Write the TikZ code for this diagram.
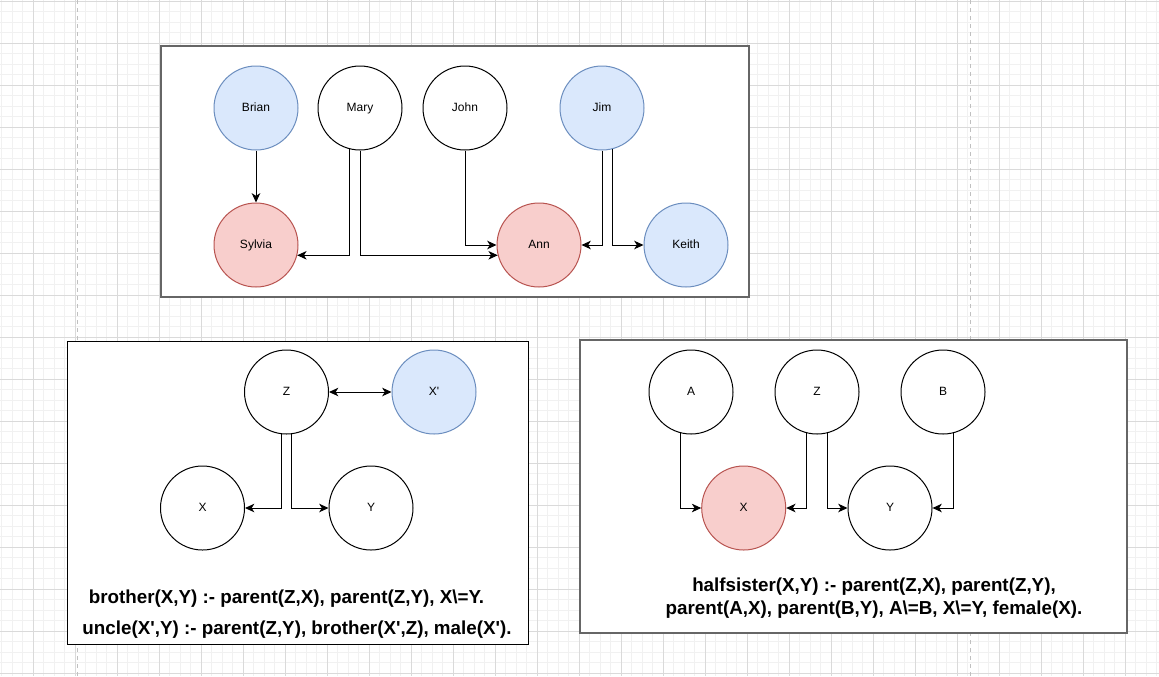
\documentclass[tikz,border=0pt]{standalone}
\usepackage{fontspec}
\setmainfont{Liberation Sans}
\usetikzlibrary{arrows.meta, positioning}
\definecolor{gridminor}{RGB}{241,241,241}
\definecolor{gridmajor}{RGB}{218,218,218}
\definecolor{pagedash}{RGB}{192,192,192}
\definecolor{malefill}{HTML}{DAE8FC}
\definecolor{maledraw}{HTML}{6C8EBF}
\definecolor{femalefill}{HTML}{F8CECC}
\definecolor{femaledraw}{HTML}{B85450}
\definecolor{framegray}{HTML}{666666}

\begin{document}
\begin{tikzpicture}[x=0.75pt, y=-0.75pt,
person/.style={
    circle,
    draw=black,
    fill=white,
    minimum size=63pt,
    inner sep=0pt,
    line width=0.75pt,
    text height=6.5pt,
    text depth=1.9pt,
    font=\fontsize{9}{11}\selectfont
},
male/.style={person, draw=maledraw, fill=malefill},
female/.style={person, draw=femaledraw, fill=femalefill},
link/.style={->, line width=0.75pt},
rule/.style={font=\fontsize{14.1}{17.25}\selectfont\bfseries, align=center, inner sep=0pt},
>={Stealth[length=7pt, width=6.4pt, inset=2pt]}]

  % canvas and grid
  \fill[white] (0,0) rectangle (1159,676);
  \useasboundingbox (0,0) rectangle (1159,676);
  \foreach \i in {0,...,110}
    \draw[gridminor, line width=0.75pt] ({1.8+10.5*\i},0) -- ({1.8+10.5*\i},676);
  \foreach \j in {0,...,64}
    \draw[gridminor, line width=0.75pt] (0,{1.3+10.5*\j}) -- (1159,{1.3+10.5*\j});
  \foreach \i in {0,...,26}
    \draw[gridmajor, line width=0.75pt] ({33.3+42*\i},0) -- ({33.3+42*\i},676);
  \foreach \j in {0,...,16}
    \draw[gridmajor, line width=0.75pt] (0,{1.3+42*\j}) -- (1159,{1.3+42*\j});
  \foreach \px in {77,970}
    \draw[pagedash, line width=0.75pt, dash pattern=on 3pt off 3pt] (\px,0) -- (\px,676);

  % frames
  \draw[framegray, line width=1.5pt, fill=white] (161,46) rectangle (749,297);
  \draw[black, line width=0.75pt, fill=white] (67,341) rectangle (528,644);
  \draw[framegray, line width=1.5pt, fill=white] (580,340) rectangle (1127,633);

  % family
  \node[male] (brian) at (256,108) {Brian};
  \node[person] (mary) at (360,108) {Mary};
  \node[person] (john) at (465,108) {John};
  \node[male] (jim) at (602,108) {Jim};
  \node[female] (sylvia) at (256,245) {Sylvia};
  \node[female] (ann) at (539,245) {Ann};
  \node[male] (keith) at (686,245) {Keith};

  \draw[link] (brian) -- (sylvia);
  \draw[link] (mary.256) |- (sylvia.-14);
  \draw[link] (mary.south) |- (ann.194);
  \draw[link] (john.south) |- (ann.west);
  \draw[link] (jim.south) |- (ann.east);
  \draw[link] (jim.284) |- (keith.west);

  % uncle rule
  \node[person] (zb) at (286.5,392) {Z};
  \node[male] (xpb) at (434,392) {X\textquotesingle};
  \node[person] (xb) at (202.5,508) {X};
  \node[person] (yb) at (371,508) {Y};

  \draw[<->, line width=0.75pt] (zb) -- (xpb);
  \draw[link] (zb.263) |- (xb.east);
  \draw[link] (zb.277) |- (yb.west);

  \node[rule] (brorule) at (286.5,599) {brother(X,Y) :- parent(Z,X), parent(Z,Y), X\textbackslash=Y.};
  \node[rule] (unclerule) at (297,630) {uncle(X\textquotesingle,Y) :- parent(Z,Y), brother(X\textquotesingle,Z), male(X\textquotesingle).};

  % halfsister rule
  \node[person] (ah) at (691,392) {A};
  \node[person] (zh) at (817,392) {Z};
  \node[person] (bh) at (943,392) {B};
  \node[female] (xh) at (743.7,508) {X};
  \node[person] (yh) at (890,508) {Y};

  \draw[link] (ah.256) |- (xh.west);
  \draw[link] (zh.256) |- (xh.east);
  \draw[link] (zh.284) |- (yh.west);
  \draw[link] (bh.284) |- (yh.east);

  \node[rule] (halfrule) at (874,598.5) {halfsister(X,Y) :- parent(Z,X), parent(Z,Y),\\parent(A,X), parent(B,Y), A\textbackslash=B, X\textbackslash=Y, female(X).};

\end{tikzpicture}
\end{document}
